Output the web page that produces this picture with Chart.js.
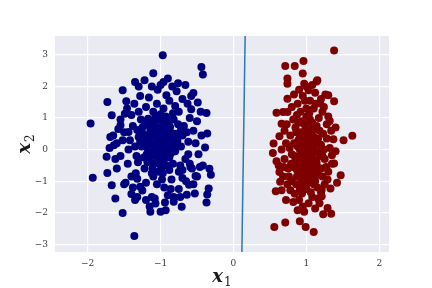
<!DOCTYPE html>
<html><head><meta charset="utf-8">
<script src="https://cdn.jsdelivr.net/npm/chart.js@4/dist/chart.umd.min.js"></script>
<style>html,body{margin:0;padding:0;background:#fff}#wrap{width:432px;height:288px}</style>
</head><body><div id="wrap"><canvas id="c" width="432" height="288"></canvas></div>
<script>
const xTicks = [-2, -1, 0, 1, 2];
const yTicks = [-3, -2, -1, 0, 1, 2, 3];
const xRange = [-2.448, 2.133];
const yRange = [-3.245, 3.6];
const xLabel = ['x', '1'];
const yLabel = ['x', '2'];

const boundaryX = [0.115, 0.16];
const boundaryY = [-3.245, 3.6];

const class0 = [
[-0.97,2.99],[-0.44,2.62],[-0.42,2.38],[-1.10,2.42],[-1.35,2.14],[-0.96,2.14],[-1.52,1.88],[-1.73,1.51],
[-1.47,1.53],[-1.96,0.83],[-1.67,1.09],[-0.55,1.79],[-0.49,1.49],[-0.37,1.16],[-0.58,1.28],[-0.36,0.51],
[-0.39,0.07],[-0.31,-0.80],[-0.33,-0.61],[-1.93,-0.89],[-1.73,-0.74],[-1.67,-1.13],[-1.50,-1.10],[-1.62,-1.55],
[-1.52,-2.01],[-1.36,-2.74],[-1.40,-1.41],[-1.32,-0.92],[-1.14,-1.97],[-1.00,-1.97],[-0.93,-1.92],[-0.94,-1.68],
[-0.71,-1.81],[-0.82,-1.50],[-0.64,-1.43],[-0.53,-1.39],[-0.37,-1.68],[-0.36,-1.42],[-0.34,-1.23],[-0.61,-1.11],
[-0.52,-0.84],[-0.46,-0.55],[-0.59,-0.55],[-0.70,-0.65],[-1.07,-1.71],[-1.12,-1.50],[-1.28,-1.18],[-1.32,-1.50],
[-1.69,0.40],[-1.64,0.14],[-1.55,0.77],[-1.49,1.14],[-1.44,0.56],[-1.74,-0.23],
[-1.05,0.35],[-0.98,0.12],[-1.12,0.55],[-0.90,0.62],[-1.20,0.20],[-1.00,-0.10],[-0.85,0.30],[-1.15,-0.30],
[-0.95,0.80],[-1.08,0.90],[-1.25,0.70],[-0.78,0.50],[-0.88,-0.25],[-1.02,-0.45],[-1.18,0.05],[-1.30,0.40],
[-0.72,0.10],[-0.93,1.05],[-1.10,1.20],[-0.82,0.95],[-1.22,-0.60],[-0.97,-0.75],[-1.35,0.10],[-0.68,0.75],
[-1.06,0.68],[-0.90,0.20],[-1.14,0.42],[-1.00,0.50],[-0.80,-0.05],[-1.27,0.95],[-0.75,1.20],[-1.05,1.45],
[-0.88,1.55],[-1.20,1.35],[-1.38,0.75],[-1.42,0.30],[-1.33,-0.20],[-0.66,-0.30],[-0.70,0.45],[-0.60,1.00],
[-0.62,0.25],[-1.50,0.55],[-1.45,-0.45],[-1.10,-0.85],[-0.85,-0.95],[-0.95,-1.20],[-1.20,-1.05],[-0.75,-0.70],
[-1.04,1.90],[-0.92,1.72],[-1.16,1.65],[-0.84,2.00],[-1.28,1.70],[-0.70,1.60],[-1.00,2.05],[-1.12,2.00],
[-0.80,1.38],[-0.63,1.45],[-0.55,0.60],[-0.52,0.20],[-0.48,-0.15],[-0.50,0.90],[-0.45,1.20],[-0.57,-0.60],
[-1.55,-0.20],[-1.60,0.20],[-1.55,0.95],[-1.60,-0.60],[-1.40,-0.85],[-1.25,-1.30],[-0.90,-1.45],[-0.75,-1.25],
[-0.65,-1.00],[-1.08,-1.55],[-0.82,-1.65],[-1.35,-1.60],[-1.15,-1.80],[-0.98,-0.30],[-1.03,0.20],[-0.96,0.40],
[-1.09,0.15],[-0.91,-0.05],[-1.13,0.75],[-0.87,0.72],[-1.01,0.95],[-1.19,-0.15],[-0.79,0.18],[-1.24,0.48],
[-0.99,-0.58],[-1.07,-0.20],[-0.94,0.57],[-1.17,0.98],[-0.83,-0.45],[-1.31,-0.40],[-0.73,-0.50],[-1.40,1.10],
[-1.46,1.30],[-0.58,1.70],[-0.66,2.05],[-0.78,1.85],[-1.36,1.45],[-1.44,0.00],[-1.65,0.45],[-1.70,0.05],
[-1.62,-0.30],[-1.48,-1.05],[-0.55,-1.10],[-0.60,-0.45],[-0.44,0.45],[-0.42,-0.50],[-0.50,-0.85],[-1.30,2.00],
[-1.22,2.20],[-0.90,2.25],[-0.76,2.10],[-1.04,0.62],[-1.16,0.30],[-0.86,0.05],[-1.26,0.10],[-0.92,-0.50],
[-1.11,-0.60],[-1.22,0.88],[-0.83,1.15],[-0.96,1.30],[-1.30,1.20],[-1.34,-0.75],[-0.70,-0.90],[-1.18,-0.40],
[-1.00,0.00],[-0.94,0.25],[-1.06,-0.05],[-1.14,0.62],[-0.88,0.45],[-0.76,0.80],[-1.28,0.25],[-0.64,0.55],
[-1.52,0.30],[-1.58,0.65],[-1.38,-1.20],[-1.05,-1.10],[-0.86,-1.25],[-1.20,-1.60],[-0.73,-1.50],[-0.62,-0.15],
[-1.02,0.28],[-0.99,0.45],[-1.08,0.40],[-0.95,0.05],[-1.12,0.10],[-1.04,-0.25],[-0.92,0.35],[-1.16,0.48],
[-1.01,0.72],[-0.89,0.85],[-1.11,0.82],[-0.97,0.58],[-1.06,0.18],[-0.93,-0.15],[-1.21,0.32],[-0.84,0.52],
[-1.09,-0.45],[-0.96,-0.38],[-1.14,-0.10],[-0.81,0.38],[-1.26,0.58],[-1.00,1.12],[-0.91,0.98],[-1.18,0.78],
[-0.86,-0.12],[-1.03,-0.70],[-1.23,-0.25],[-0.77,0.28],[-1.07,1.05],[-0.98,-0.95],[-1.12,-0.75],[-0.88,-0.65],
[-1.32,0.62],[-0.72,0.62],[-1.05,0.52],[-0.94,0.70],[-1.15,0.05],[-0.99,0.30],[-1.10,-0.18],[-0.90,0.48]
];

const class1 = [
[1.38,3.14],[0.71,2.65],[0.84,2.65],[0.96,2.81],[0.95,2.41],[0.74,2.25],[0.74,2.09],[0.97,2.09],
[1.14,2.16],[0.74,1.61],[0.59,1.17],[0.74,1.19],[1.38,1.53],[1.30,1.72],[1.32,0.91],[1.63,0.44],
[1.51,0.30],[1.37,0.33],[0.55,0.19],[0.54,-0.11],[0.59,-0.37],[1.47,-0.81],[1.38,-0.44],[1.35,-0.18],
[0.58,-1.32],[0.66,-1.29],[0.56,-2.45],[0.71,-2.31],[0.91,-2.27],[0.99,-2.45],[1.10,-2.61],[0.88,-1.92],
[0.97,-1.97],[1.23,-2.05],[1.34,-2.03],[1.29,-1.85],[1.12,-1.87],[1.21,-1.48],[1.21,-1.27],[1.33,-1.23],
[0.82,-1.66],[0.94,-1.39],[0.78,-1.29],[0.64,-1.02],[0.63,-0.71],[0.63,0.42],[0.66,0.82],[0.68,1.19],
[1.19,1.46],[1.03,1.88],
[1.00,0.00],[1.05,-0.20],[0.95,0.25],[1.10,0.40],[0.90,-0.40],[1.15,-0.55],[0.98,0.60],[1.08,0.85],
[0.88,0.10],[1.20,0.15],[1.02,-0.70],[0.93,-0.90],[1.12,-1.00],[0.85,0.70],[1.25,-0.30],[0.80,-0.15],
[1.18,0.60],[1.00,1.05],[0.92,1.20],[1.10,1.30],[0.78,0.45],[0.75,-0.60],[1.28,0.35],[1.30,-0.70],
[0.97,-1.15],[1.06,-1.35],[0.86,-1.10],[1.15,-1.20],[1.04,0.30],[0.96,-0.15],[1.07,0.10],[0.99,-0.45],
[1.13,-0.05],[0.91,0.45],[1.01,0.75],[1.09,-0.75],[0.87,-0.65],[1.22,-0.85],[0.82,0.95],[1.17,1.00],
[1.05,1.55],[0.95,1.70],[1.12,1.80],[0.88,1.45],[1.22,1.20],[1.28,0.80],[0.72,0.20],[0.70,-0.30],
[0.73,0.80],[0.68,-0.85],[1.32,0.05],[1.35,-0.45],[1.25,-1.10],[0.80,-1.00],[0.90,-1.60],[1.03,-1.70],
[1.16,-1.55],[1.00,2.00],[0.90,1.90],[1.08,2.05],[0.83,1.75],[1.20,1.60],[1.15,2.20],[1.26,1.75],
[1.03,-0.30],[0.94,0.05],[1.06,0.50],[0.98,-0.60],[1.11,-0.35],[0.89,0.30],[1.14,0.20],[0.92,-0.20],
[1.02,0.15],[0.97,0.40],[1.08,-0.50],[0.85,-0.30],[1.19,-0.20],[0.83,0.20],[1.23,0.50],[1.04,-0.95],
[0.95,-0.75],[1.16,-0.80],[0.87,-0.85],[1.27,-0.55],[0.77,0.05],[1.05,0.95],[0.94,0.90],[1.14,0.75],
[0.86,0.55],[1.24,0.00],[0.79,-0.45],[1.00,-1.25],[1.10,-1.10],[0.91,-1.25],[1.20,-1.35],[0.76,-0.85],
[1.30,1.05],[1.34,0.60],[0.70,0.60],[0.66,0.00],[0.69,-0.55],[1.40,-0.05],[1.29,-0.95],[0.74,-1.10],
[1.00,1.30],[1.13,1.45],[0.87,1.10],[0.98,1.55],[1.24,1.35],[0.80,1.35],[1.08,-1.50],[0.95,-1.80],
[1.18,-1.70],[0.84,-1.40],[1.42,-1.05],[1.40,0.70],[0.62,-0.50],[0.72,-1.60],[1.06,0.65],[0.99,0.20],
[1.03,-0.10],[0.96,-0.35],[1.09,-0.25],[0.93,0.15],[1.07,0.28],[1.00,-0.55],[1.12,-0.65],[0.90,-0.75],
[1.01,-0.85],[1.14,-0.40],[0.88,-0.50],[1.05,0.40],[0.97,0.80],[1.10,0.62],[0.92,0.55],[1.18,-0.05],
[1.02,-1.05],[0.94,-1.00],[1.08,-0.90],[1.20,-0.60],[0.84,-0.20],[1.16,0.35],[0.89,0.85],[1.04,1.15],
[0.99,-0.20],[1.06,0.05],[0.95,-0.50],[1.11,0.15],[0.91,0.00],[1.22,-0.20],[0.82,-0.55],[1.01,0.50]
];

const toPts = arr => arr.map(p => ({x: p[0], y: p[1]}));
const minus = v => String(v).replace('-', '\u2212');
const tickFont = {family: "'DejaVu Serif', serif", size: 9};

function drawSubLabel(ctx, parts, x, y) {
  ctx.font = "italic bold 18px 'DejaVu Serif', serif";
  const w1 = ctx.measureText(parts[0]).width;
  ctx.font = "12px 'DejaVu Serif', serif";
  const w2 = ctx.measureText(parts[1]).width;
  const start = -(w1 + w2 + 1) / 2;
  ctx.textBaseline = 'alphabetic';
  ctx.textAlign = 'left';
  ctx.font = "italic bold 18px 'DejaVu Serif', serif";
  ctx.fillText(parts[0], x + start, y);
  ctx.font = "12px 'DejaVu Serif', serif";
  ctx.fillText(parts[1], x + start + w1 + 1, y + 4);
}

new Chart(document.getElementById('c'), {
  type: 'scatter',
  data: {
    datasets: [
      {label: 'class 0', data: toPts(class0), backgroundColor: '#00007f', borderColor: '#00007f', borderWidth: 0, pointRadius: 4, pointHoverRadius: 4},
      {label: 'class 1', data: toPts(class1), backgroundColor: '#7f0000', borderColor: '#7f0000', borderWidth: 0, pointRadius: 4, pointHoverRadius: 4},
      {type: 'line', label: 'boundary', data: boundaryX.map((x, i) => ({x: x, y: boundaryY[i]})), borderColor: '#2a78b5', borderWidth: 1.5, pointRadius: 0, fill: false}
    ]
  },
  options: {
    responsive: false, animation: false, events: [],
    layout: {padding: {left: 0, top: 36, right: 43, bottom: 0}},
    plugins: {legend: {display: false}, tooltip: {enabled: false}},
    scales: {
      x: {type: 'linear', min: xRange[0], max: xRange[1],
        afterBuildTicks: s => { s.ticks = xTicks.map(v => ({value: v})); },
        afterFit: s => { s.height = 36; },
        grid: {color: '#ffffff', lineWidth: 1.2, drawTicks: false},
        border: {display: false},
        ticks: {font: tickFont, color: '#3a3a3a', padding: 6, callback: v => minus(v)}
      },
      y: {type: 'linear', min: yRange[0], max: yRange[1],
        afterBuildTicks: s => { s.ticks = yTicks.map(v => ({value: v})); },
        afterFit: s => { s.width = 55; },
        grid: {color: '#ffffff', lineWidth: 1.2, drawTicks: false},
        border: {display: false},
        ticks: {font: tickFont, color: '#3a3a3a', padding: 7, callback: v => minus(v)}
      }
    }
  },
  plugins: [{
    id: 'bg',
    beforeDraw(chart) {
      const {ctx, chartArea: a} = chart;
      ctx.save(); ctx.fillStyle = '#eaeaf2';
      ctx.fillRect(a.left, a.top, a.right - a.left, a.bottom - a.top);
      ctx.restore();
    },
    afterDraw(chart) {
      const {ctx, chartArea: a} = chart;
      ctx.save();
      ctx.fillStyle = '#1a1a1a';
      drawSubLabel(ctx, xLabel, (a.left + a.right) / 2, 282);
      ctx.translate(30, (a.top + a.bottom) / 2);
      ctx.rotate(-Math.PI / 2);
      drawSubLabel(ctx, yLabel, 0, 0);
      ctx.restore();
    }
  }]
});
</script></body></html>
